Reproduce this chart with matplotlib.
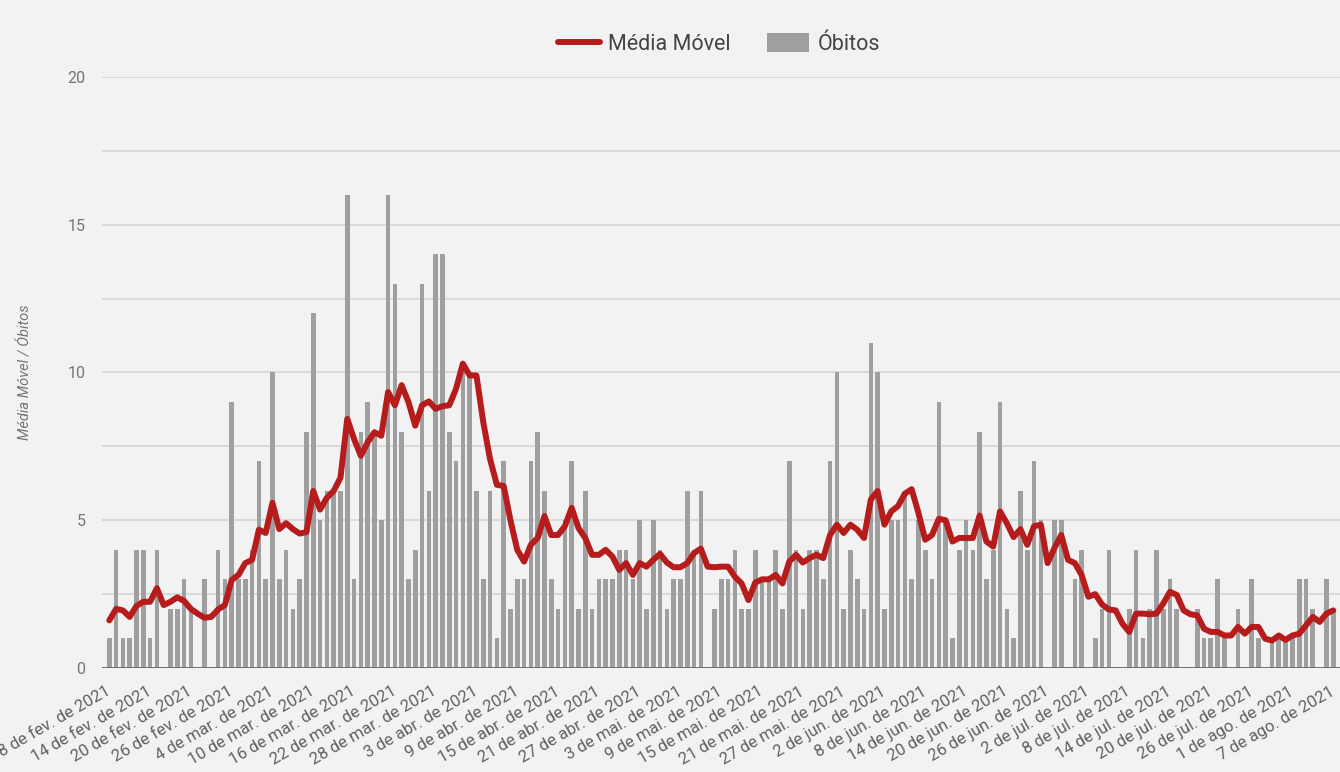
import matplotlib
matplotlib.use("Agg")
import matplotlib.pyplot as plt
import numpy as np

plt.rcParams['font.family'] = ['Roboto', 'DejaVu Sans']

# óbitos diários, a partir de 8 de fev. de 2021
obitos = [1, 4, 1, 1, 4, 4, 1, 4, 0, 2, 2, 3, 2, 0, 3, 0, 4, 3, 9, 3, 3, 4, 7, 3, 10, 3, 4, 2, 3, 8,
          12, 5, 6, 6, 6, 16, 3, 8, 9, 8, 5, 16, 13, 8, 3, 4, 13, 6, 14, 14, 8, 7, 10, 10, 6, 3, 6, 1, 7, 2,
          3, 3, 7, 8, 6, 3, 2, 5, 7, 2, 6, 2, 3, 3, 3, 4, 4, 3, 5, 2, 5, 4, 2, 3, 3, 6, 4, 6, 0, 2,
          3, 3, 4, 2, 2, 4, 3, 3, 4, 2, 7, 4, 2, 4, 4, 3, 7, 10, 2, 4, 3, 2, 11, 10, 2, 5, 5, 6, 3, 5,
          4, 3, 9, 5, 1, 4, 5, 4, 8, 3, 4, 9, 2, 1, 6, 4, 7, 5, 0, 5, 5, 0, 3, 4, 0, 1, 2, 4, 0, 0,
          2, 4, 1, 2, 4, 2, 3, 2, 0, 0, 2, 1, 1, 3, 1, 0, 2, 0, 3, 1, 0, 1, 1, 1, 1, 3, 3, 2, 0, 3, 2]

# média móvel
media_movel = [1.61, 2.0, 1.95, 1.73, 2.1, 2.24, 2.24, 2.7, 2.13, 2.24, 2.39, 2.27, 2.0, 1.84, 1.7,
               1.73, 1.98, 2.13, 2.98, 3.15, 3.55, 3.66, 4.68, 4.57, 5.59, 4.7, 4.9, 4.7, 4.55, 4.6,
               5.99, 5.36, 5.76, 5.99, 6.44, 8.43, 7.75, 7.18, 7.64, 7.98, 7.86, 9.34, 8.89, 9.57, 9.0,
               8.2, 8.89, 9.02, 8.77, 8.86, 8.89, 9.45, 10.3, 9.9, 9.9, 8.32, 7.07, 6.2, 6.16, 5.0,
               4.0, 3.6, 4.17, 4.4, 5.14, 4.5, 4.5, 4.8, 5.42, 4.74, 4.4, 3.83, 3.83, 4.0, 3.77,
               3.32, 3.55, 3.15, 3.55, 3.43, 3.66, 3.86, 3.57, 3.41, 3.41, 3.55, 3.89, 4.04, 3.43, 3.41,
               3.43, 3.43, 3.09, 2.86, 2.3, 2.89, 3.0, 3.0, 3.15, 2.86, 3.6, 3.83, 3.57, 3.72, 3.83,
               3.72, 4.5, 4.85, 4.57, 4.85, 4.68, 4.4, 5.7, 5.99, 4.85, 5.3, 5.48, 5.9, 6.05, 5.25,
               4.34, 4.5, 5.05, 5.0, 4.28, 4.4, 4.4, 4.4, 5.16, 4.28, 4.11, 5.3, 4.9, 4.43, 4.7,
               4.17, 4.8, 4.85, 3.55, 4.06, 4.5, 3.66, 3.55, 3.15, 2.41, 2.5, 2.15, 1.98, 1.95, 1.5,
               1.22, 1.84, 1.84, 1.82, 1.84, 2.18, 2.58, 2.47, 1.95, 1.82, 1.78, 1.33, 1.22, 1.22, 1.1,
               1.1, 1.39, 1.16, 1.39, 1.39, 0.99, 0.93, 1.1, 0.95, 1.1, 1.16, 1.44, 1.73, 1.56, 1.84, 1.95]

rotulos_x = ["8 de fev. de 2021", "14 de fev. de 2021", "20 de fev. de 2021", "26 de fev. de 2021",
             "4 de mar. de 2021", "10 de mar. de 2021", "16 de mar. de 2021", "22 de mar. de 2021",
             "28 de mar. de 2021", "3 de abr. de 2021", "9 de abr. de 2021", "15 de abr. de 2021",
             "21 de abr. de 2021", "27 de abr. de 2021", "3 de mai. de 2021", "9 de mai. de 2021",
             "15 de mai. de 2021", "21 de mai. de 2021", "27 de mai. de 2021", "2 de jun. de 2021",
             "8 de jun. de 2021", "14 de jun. de 2021", "20 de jun. de 2021", "26 de jun. de 2021",
             "2 de jul. de 2021", "8 de jul. de 2021", "14 de jul. de 2021", "20 de jul. de 2021",
             "26 de jul. de 2021", "1 de ago. de 2021", "7 de ago. de 2021"]

dias = np.arange(len(obitos))
fundo = '#f2f2f2'

fig = plt.figure(figsize=(13.4, 7.72), dpi=100, facecolor=fundo)
ax = fig.add_axes([102 / 1340, 1 - 668 / 772, 1238 / 1340, 591 / 772], facecolor=fundo)

ax.bar(dias, obitos, width=0.68, color='#9f9f9f', label='Óbitos', zorder=2)
ax.plot(dias, media_movel, color='#b71c1c', lw=4.3, label='Média Móvel', zorder=3,
        solid_capstyle='round', solid_joinstyle='round')

ax.set_xlim(-1.07, 181)
ax.set_ylim(0, 20)
ax.set_yticks([0, 5, 10, 15, 20])
ax.set_yticks(np.arange(0, 20.1, 2.5), minor=True)
ax.grid(axis='y', which='both', color='#d6d6d6', lw=1.2, zorder=0)
ax.set_axisbelow(True)
ax.axhline(0, color='#666666', lw=2, zorder=4)
for s in ax.spines.values():
    s.set_visible(False)

ax.tick_params(axis='y', which='both', length=0, pad=12, labelsize=11.5, labelcolor='#757575')
ax.set_xticks(dias[::6], rotulos_x)
ax.tick_params(axis='x', length=0, pad=16, labelsize=12, labelcolor='#616161')
for lbl in ax.get_xticklabels():
    lbl.set_rotation(30)
    lbl.set_ha('right')
    lbl.set_va('center')
    lbl.set_rotation_mode('anchor')

ax.set_ylabel('Média Móvel / Óbitos', fontsize=10.5, color='#757575', style='italic')
ax.yaxis.label.set_va('center')
ax.yaxis.set_label_coords(-0.0614, 0.5)

fig.legend(loc='center', bbox_to_anchor=(0.5366, 0.943), ncol=2, frameon=False, fontsize=15.5,
           handlelength=1.95, handleheight=1.0, handletextpad=0.4, columnspacing=1.7,
           labelcolor='#444444')

fig.savefig('out.png', dpi=100, facecolor=fundo)
